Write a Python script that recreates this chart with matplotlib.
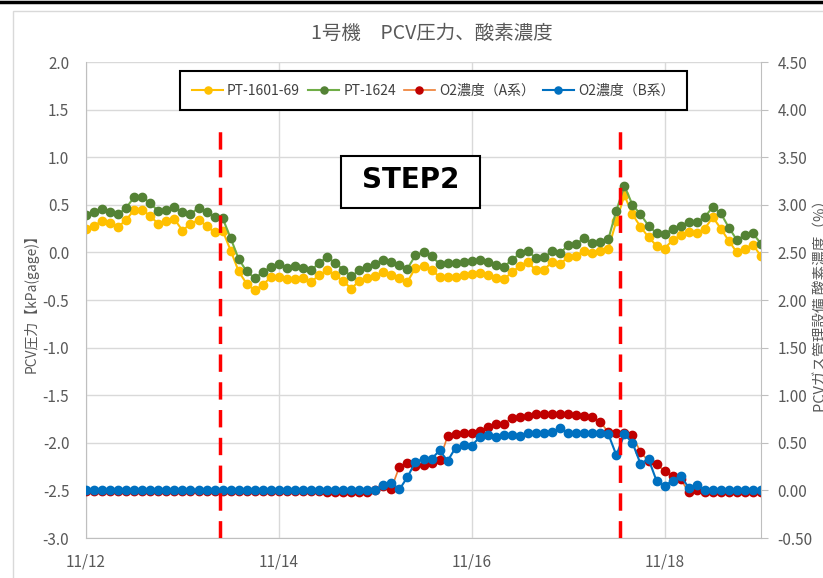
import matplotlib
matplotlib.use("Agg")
import matplotlib.pyplot as plt
import matplotlib.dates as mdates
import numpy as np
import pandas as pd
from matplotlib.patches import Rectangle
from matplotlib.lines import Line2D
from matplotlib.ticker import FormatStrFormatter

plt.rcParams['font.family'] = ['Noto Sans CJK JP', 'DejaVu Sans']

# データ (2時間毎)
start = '2019-11-12'
n_points = 85
x_ticks = ['2019-11-12', '2019-11-14', '2019-11-16', '2019-11-18']
step_lines = ['2019-11-13 09:20', '2019-11-17 13:00']

pt1601 = [0.25, 0.28, 0.33, 0.31, 0.27, 0.34, 0.45, 0.45, 0.38, 0.30,
          0.33, 0.35, 0.23, 0.30, 0.34, 0.28, 0.21, 0.23, 0.02, -0.20,
          -0.33, -0.40, -0.34, -0.26, -0.26, -0.28, -0.28, -0.27, -0.31, -0.24,
          -0.19, -0.24, -0.30, -0.38, -0.30, -0.27, -0.25, -0.21, -0.24, -0.27,
          -0.31, -0.16, -0.14, -0.18, -0.26, -0.26, -0.26, -0.24, -0.23, -0.22,
          -0.24, -0.27, -0.28, -0.21, -0.14, -0.10, -0.19, -0.18, -0.10, -0.12,
          -0.05, -0.04, 0.02, -0.01, 0.01, 0.04, 0.33, 0.60, 0.40, 0.27,
          0.16, 0.07, 0.04, 0.13, 0.18, 0.21, 0.20, 0.25, 0.37, 0.25,
          0.12, 0.00, 0.04, 0.08, -0.04]

pt1624 = [0.39, 0.42, 0.46, 0.42, 0.40, 0.47, 0.58, 0.58, 0.52, 0.43,
          0.45, 0.48, 0.42, 0.40, 0.47, 0.42, 0.37, 0.36, 0.15, -0.07,
          -0.20, -0.27, -0.21, -0.15, -0.12, -0.16, -0.14, -0.16, -0.19, -0.11,
          -0.05, -0.11, -0.18, -0.25, -0.19, -0.15, -0.12, -0.08, -0.10, -0.13,
          -0.17, -0.03, 0.00, -0.04, -0.12, -0.11, -0.11, -0.10, -0.09, -0.08,
          -0.10, -0.13, -0.15, -0.08, -0.01, 0.01, -0.06, -0.05, 0.01, -0.01,
          0.08, 0.09, 0.15, 0.10, 0.11, 0.14, 0.44, 0.70, 0.50, 0.40,
          0.28, 0.20, 0.19, 0.25, 0.28, 0.32, 0.32, 0.37, 0.48, 0.41,
          0.26, 0.13, 0.18, 0.20, 0.09]

o2_a = [-0.01, -0.01, -0.01, -0.01, -0.01, -0.01, -0.01, -0.01, -0.01, -0.01,
        -0.01, -0.01, -0.01, -0.01, -0.01, -0.01, -0.01, -0.01, -0.01, -0.01,
        -0.01, -0.01, -0.01, -0.01, -0.01, -0.01, -0.01, -0.01, -0.01, -0.01,
        -0.02, -0.02, -0.02, -0.02, -0.02, -0.02, 0.00, 0.05, 0.02, 0.25,
        0.29, 0.26, 0.27, 0.29, 0.32, 0.57, 0.59, 0.60, 0.60, 0.62,
        0.67, 0.70, 0.70, 0.76, 0.77, 0.78, 0.80, 0.80, 0.80, 0.80,
        0.80, 0.79, 0.78, 0.77, 0.72, 0.61, 0.60, 0.60, 0.58, 0.40,
        0.31, 0.28, 0.20, 0.15, 0.12, -0.02, 0.00, -0.02, -0.02, -0.02,
        -0.02, -0.02, -0.02, -0.02, -0.02]

o2_b = [0.00, 0.00, 0.00, 0.00, 0.00, 0.00, 0.00, 0.00, 0.00, 0.00,
        0.00, 0.00, 0.00, 0.00, 0.00, 0.00, 0.00, 0.00, 0.00, 0.00,
        0.00, 0.00, 0.00, 0.00, 0.00, 0.00, 0.00, 0.00, 0.00, 0.00,
        0.00, 0.00, 0.00, 0.00, 0.00, 0.00, 0.00, 0.06, 0.08, 0.01,
        0.14, 0.30, 0.33, 0.33, 0.42, 0.31, 0.45, 0.48, 0.47, 0.56,
        0.58, 0.56, 0.58, 0.58, 0.57, 0.60, 0.60, 0.60, 0.61, 0.66,
        0.60, 0.60, 0.60, 0.60, 0.60, 0.59, 0.37, 0.59, 0.50, 0.28,
        0.33, 0.10, 0.05, 0.10, 0.15, 0.03, 0.06, 0.00, 0.00, 0.00,
        0.00, 0.00, 0.00, 0.00, 0.00]

labels = ['PT-1601-69', 'PT-1624', 'O2濃度（A系）', 'O2濃度（B系）']

t = pd.date_range(start, periods=n_points, freq='2h')
gray = '#595959'

fig = plt.figure(figsize=(8.23, 5.78), dpi=100)
ax = fig.add_axes([0.1045, 0.0692, 0.8202, 0.8235])
ax2 = ax.twinx()

ms = 6
l1, = ax.plot(t, pt1601, '-o', color='#FFC000', ms=ms, lw=1.5, label=labels[0])
l2, = ax.plot(t, pt1624, '-o', color='#70AD47', mfc='#548235', mec='#548235',
              ms=ms, lw=1.5, label=labels[1])
l3, = ax2.plot(t, o2_a, '-o', color='#ED7D31', mfc='#C00000', mec='#C00000',
               ms=ms, lw=1.2, label=labels[2])
l4, = ax2.plot(t, o2_b, '-o', color='#0070C0', ms=ms, lw=1.5, label=labels[3])

# 軸
ax.set_xlim(pd.Timestamp('2019-11-12'), pd.Timestamp('2019-11-19'))
ax.set_xticks(pd.to_datetime(x_ticks))
ax.xaxis.set_major_formatter(mdates.DateFormatter('%m/%d'))
ax.set_ylim(-3, 2)
ax.set_yticks(np.arange(-3, 2.01, 0.5))
ax.yaxis.set_major_formatter(FormatStrFormatter('%.1f'))
ax2.set_ylim(-0.5, 4.5)
ax2.set_yticks(np.arange(-0.5, 4.51, 0.5))
ax2.yaxis.set_major_formatter(FormatStrFormatter('%.2f'))

ax.grid(True, color='#D9D9D9', lw=1)
ax.set_axisbelow(True)
for a in (ax, ax2):
    a.spines['top'].set_visible(False)
    for s in ('left', 'right', 'bottom'):
        a.spines[s].set_color('#BFBFBF')
ax.spines['right'].set_visible(False)
ax2.spines['left'].set_visible(False)
ax2.spines['bottom'].set_visible(False)

ax.tick_params(axis='y', length=0, pad=12, labelsize=11, labelcolor=gray)
ax.tick_params(axis='x', length=0, pad=11, labelsize=11, labelcolor=gray)
ax2.tick_params(axis='y', direction='out', length=5, color='#BFBFBF', pad=7,
                labelsize=11, labelcolor=gray)

ax.set_ylabel('PCV圧力【kPa(gage)】', fontsize=10, color=gray, labelpad=3)
# 右軸タイトル (図の右端で切れている)
fig.text(821 / 823, 1 - 302 / 578, 'PCVガス管理設備 酸素濃度（%）', rotation=90,
         ha='center', va='center', fontsize=10.5, color=gray)

fig.suptitle('1号機　PCV圧力、酸素濃度', x=0.525, y=1 - 23 / 578, fontsize=14,
             color=gray)

# STEP2 区間
for d in step_lines:
    ax2.axvline(pd.Timestamp(d), ymin=0, ymax=0.862, color='#FF0000', lw=2.5,
                ls=(0, (5, 3)), zorder=6)

ax2.add_patch(Rectangle((0.378, 0.693), 0.206, 0.109, transform=ax2.transAxes,
                        fc='white', ec='black', lw=1.5, zorder=7))
ax2.text(0.481, 0.735, 'STEP2', transform=ax2.transAxes, ha='center',
         va='baseline', fontsize=20, fontweight='bold', family='DejaVu Sans',
         color='black', zorder=8)

leg = ax2.legend([l1, l2, l3, l4], labels, loc='lower left',
                 bbox_to_anchor=(0.139, 0.899, 0.751, 0.097), mode='expand',
                 ncol=4, borderaxespad=0, fancybox=False, edgecolor='black',
                 framealpha=1, borderpad=0.9, handlelength=2.2,
                 handletextpad=0.3, fontsize=10, markerscale=0.85)
leg.get_frame().set_linewidth(1.5)
leg.set_zorder(9)
for txt in leg.get_texts():
    txt.set_color('#404040')

# 枠
fig.add_artist(Rectangle((13 / 823, -0.01), 1.0, 1 - 11 / 578 + 0.01,
                         transform=fig.transFigure, fill=False, ec='#D9D9D9',
                         lw=1))
fig.add_artist(Line2D([0, 1], [1 - 1.5 / 578] * 2, color='black', lw=2.5))

fig.savefig('out.png', dpi=100)
